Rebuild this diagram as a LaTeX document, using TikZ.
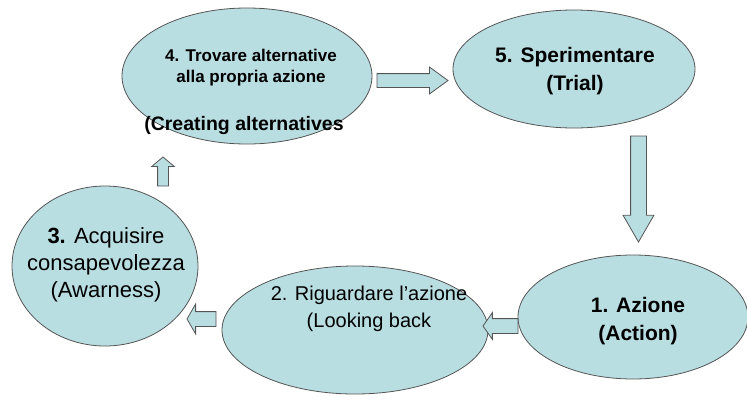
\documentclass[tikz,border=0pt]{standalone}
\usepackage{fontspec}
\setmainfont{Liberation Sans}
\usetikzlibrary{shapes.geometric,shapes.arrows}
\definecolor{cellblue}{RGB}{185,222,226}
\definecolor{rimgray}{RGB}{85,85,85}

\begin{document}
\begin{tikzpicture}[x=1pt, y=-1pt,
  stage/.style = {ellipse, draw=rimgray, fill=cellblue, line width=0.8pt,
    inner sep=0pt},
  caption/.style = {align=center, inner sep=0pt},
  move/.style = {single arrow, draw=rimgray, fill=cellblue, line width=0.8pt,
    inner xsep=0pt, minimum width=0pt, single arrow head indent=0pt,
    anchor=tail, outer sep=0pt}]
  \useasboundingbox (0,0) rectangle (747,399);
  % the five stages
  \node[stage, minimum width=250, minimum height=136] (e4) at (247,76) {};
  \node[stage, minimum width=242, minimum height=118] (e5) at (574,69) {};
  \node[stage, minimum width=230, minimum height=124] (e1) at (633,317) {};
  \node[stage, minimum width=266, minimum height=128] (e2) at (355,330) {};
  \node[stage, minimum width=186, minimum height=160] (e3) at (105,266) {};
  % texts
  \node[caption, font=\bfseries\fontsize{17}{21}\selectfont] (t4) at (251,67.5)
    {4. Trovare alternative\\alla propria azione};
  \node[caption, font=\bfseries\fontsize{19.5}{23}\selectfont] (t4b) at (244,125)
    {(Creating alternatives};
  \node[caption, font=\bfseries\fontsize{21}{28}\selectfont] (t5) at (575,71)
    {5. Sperimentare\\(Trial)};
  \node[caption, font=\bfseries\fontsize{21}{28}\selectfont] (t1) at (638,321)
    {1. Azione\\(Action)};
  \node[caption, font=\fontsize{20}{27}\selectfont] (t2) at (369,308.5)
    {2. Riguardare l’azione\\(Looking back};
  \node[caption, font=\fontsize{22}{27}\selectfont] (t3) at (106,265)
    {\textbf{3.} Acquisire\\consapevolezza\\(Awarness)};
  % block arrows
  \node[move, minimum height=71, inner ysep=6.5, single arrow head extend=6.5,
    single arrow tip angle=72] (a45) at (377,80.5) {};
  \node[move, rotate=-90, minimum height=106, inner ysep=7.5,
    single arrow head extend=7.5, single arrow tip angle=60] (a51) at (638.5,136) {};
  \node[move, rotate=180, minimum height=35, inner ysep=7, single arrow head extend=6,
    single arrow tip angle=110] (a12) at (518,326) {};
  \node[move, rotate=180, minimum height=29, inner ysep=7,
    single arrow head extend=7.5, single arrow tip angle=120] (a23) at (216,319) {};
  \node[move, rotate=90, minimum height=29, inner ysep=5, single arrow head extend=6,
    single arrow tip angle=100] (a34) at (163,186) {};
\end{tikzpicture}
\end{document}
